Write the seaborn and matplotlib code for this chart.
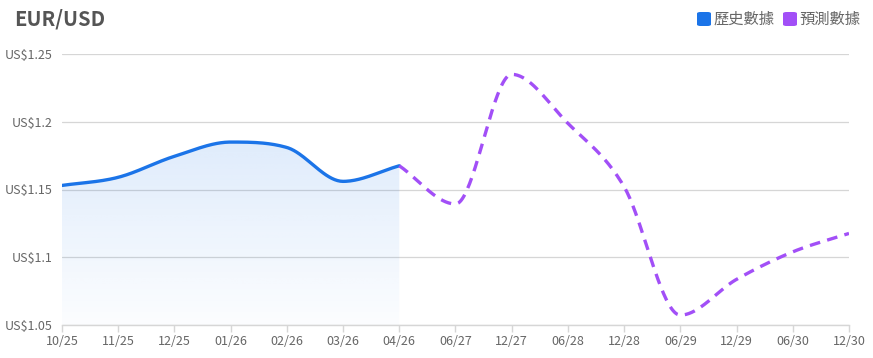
import numpy as np
import pandas as pd
import matplotlib
matplotlib.use("Agg")
import matplotlib.pyplot as plt
import seaborn as sns
from matplotlib.patches import FancyBboxPatch
from matplotlib.colors import to_rgb

# ---- data ----
tick_labels = ["10/25", "11/25", "12/25", "01/26", "02/26", "03/26", "04/26",
               "06/27", "12/27", "06/28", "12/28", "06/29", "12/29", "06/30", "12/30"]
hist_idx = [0, 1, 2, 3, 4, 5, 6]
hist_vals = [1.153, 1.159, 1.1745, 1.185, 1.181, 1.156, 1.1675]
fc_idx = [6, 7, 8, 9, 10, 11, 12, 13, 14]
fc_vals = [1.1675, 1.1393, 1.235, 1.1988, 1.152, 1.0573, 1.0837, 1.104, 1.1176]
y_ticks = [1.05, 1.1, 1.15, 1.2, 1.25]
y_tick_labels = ["US$1.05", "US$1.1", "US$1.15", "US$1.2", "US$1.25"]

BLUE = "#1b74e8"
PURPLE = "#a24ff7"
GREY_TXT = "#666666"
GRID = "#d6d6d6"


def monotone_curve(xs, ys, n=40):
    """Monotone cubic (Fritsch-Carlson) smoothing used for rendering the line."""
    x = np.asarray(xs, float)
    y = np.asarray(ys, float)
    dx = np.diff(x)
    m = np.diff(y) / dx
    t = np.zeros_like(y)
    t[0], t[-1] = m[0], m[-1]
    for i in range(1, len(y) - 1):
        t[i] = 0.0 if m[i - 1] * m[i] <= 0 else (m[i - 1] + m[i]) / 2
    for i in range(len(m)):
        if m[i] == 0:
            t[i] = t[i + 1] = 0
            continue
        a, b = t[i] / m[i], t[i + 1] / m[i]
        s = a * a + b * b
        if s > 9:
            tau = 3 / np.sqrt(s)
            t[i] = tau * a * m[i]
            t[i + 1] = tau * b * m[i]
    X, Y = [], []
    for i in range(len(m)):
        u = np.linspace(0, 1, n, endpoint=(i == len(m) - 1))
        h00 = 2 * u**3 - 3 * u**2 + 1
        h10 = u**3 - 2 * u**2 + u
        h01 = -2 * u**3 + 3 * u**2
        h11 = u**3 - u**2
        X.append(x[i] + u * dx[i])
        Y.append(h00 * y[i] + h10 * dx[i] * t[i] + h01 * y[i + 1] + h11 * dx[i] * t[i + 1])
    return np.concatenate(X), np.concatenate(Y)


sns.set_theme(style="white")
plt.rcParams["font.family"] = ["Noto Sans CJK TC", "DejaVu Sans"]

fig = plt.figure(figsize=(8.73, 3.58), dpi=100)
ax = fig.add_axes([62 / 873, 1 - 325 / 358, (849 - 62) / 873, (325 - 54) / 358])

hx, hy = monotone_curve(hist_idx, hist_vals)
fx, fy = monotone_curve(fc_idx, fc_vals)
df_h = pd.DataFrame({"x": hx, "y": hy})
df_f = pd.DataFrame({"x": fx, "y": fy})

# gradient fill under historical line
poly = ax.fill_between(hx, hy, 1.05, color="none", lw=0)
rgb = to_rgb(BLUE)
grad = np.zeros((256, 1, 4))
alphas = np.linspace(0.14, 0.015, 256)
grad[:, 0, 0:3] = rgb
grad[:, 0, 3] = alphas
img = ax.imshow(grad, extent=[hist_idx[0], hist_idx[-1], 1.05, max(hist_vals)],
                aspect="auto", origin="upper", zorder=1)
path = poly.get_paths()[0]
img.set_clip_path(path, transform=ax.transData)

sns.lineplot(data=df_h, x="x", y="y", ax=ax, color=BLUE, lw=2.4, sort=False, zorder=3)
sns.lineplot(data=df_f, x="x", y="y", ax=ax, color=PURPLE, lw=2.4, sort=False, zorder=3,
             dashes=False, linestyle=(0, (3.2, 2.2)))

ax.set_xlim(0, len(tick_labels) - 1)
ax.set_ylim(1.05, 1.25)
ax.set_xticks(range(len(tick_labels)))
ax.set_xticklabels(tick_labels)
ax.set_yticks(y_ticks)
ax.set_yticklabels(y_tick_labels)
ax.set_xlabel("")
ax.set_ylabel("")
ax.grid(axis="y", color=GRID, lw=0.9)
ax.grid(axis="x", visible=False)
for s in ["left", "right", "top"]:
    ax.spines[s].set_visible(False)
ax.spines["bottom"].set_color(GRID)
ax.spines["bottom"].set_linewidth(1.0)
ax.tick_params(axis="x", colors=GREY_TXT, labelsize=9, length=5, width=1.0,
               color=GRID, pad=2, bottom=True)
ax.tick_params(axis="y", colors=GREY_TXT, labelsize=9, length=0, pad=7)

# title
fig.text(14 / 873, 1 - 19 / 358, "EUR/USD", fontsize=14.5, fontweight="bold",
         color="#555555", va="center", ha="left")

# legend
def legend_item(x0, color, label):
    w = 14 / 873
    h = 14 / 358
    box = FancyBboxPatch((x0 / 873, 1 - 26 / 358), w, h,
                         boxstyle="round,pad=0,rounding_size=0.004",
                         transform=fig.transFigure, facecolor=color, edgecolor="none")
    fig.patches.append(box)
    fig.text((x0 + 16) / 873, 1 - 19.5 / 358, label, fontsize=11, color=GREY_TXT,
             va="center", ha="left")

legend_item(697, BLUE, "歷史數據")
legend_item(783, PURPLE, "預測數據")

fig.savefig("out.png", dpi=100)
